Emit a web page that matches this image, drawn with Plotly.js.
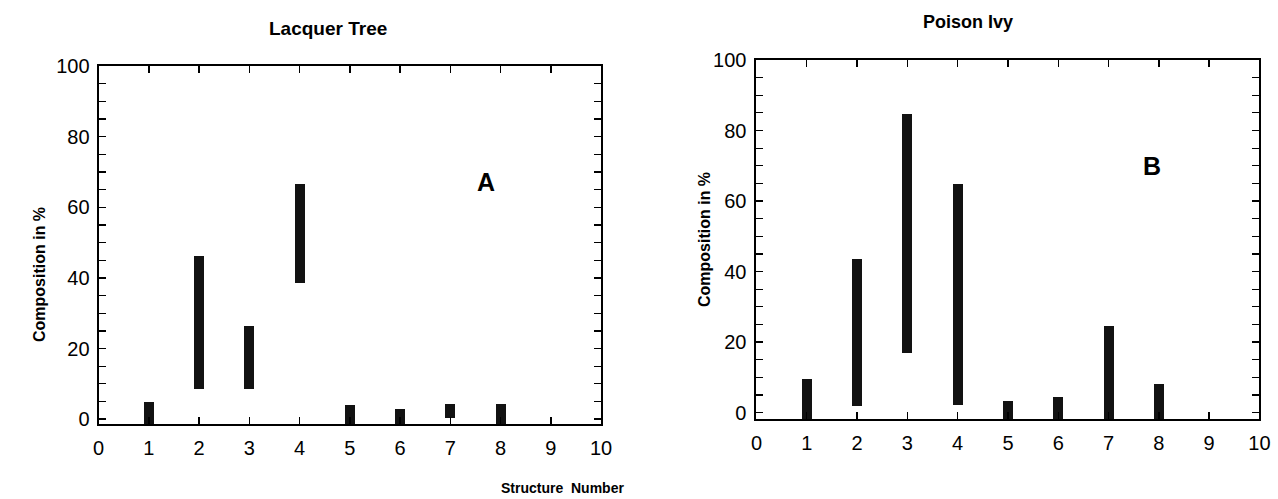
<!DOCTYPE html>
<html>
<head>
<meta charset="utf-8">
<script src="https://cdn.plot.ly/plotly-3.0.1.min.js"></script>
<style>
html,body{margin:0;padding:0;background:#fff;}
#chart{width:1278px;height:499px;}
</style>
</head>
<body>
<div id="chart"></div>
<script>
// Structure numbers (x positions)
const structures = [1, 2, 3, 4, 5, 6, 7, 8];
// Panel A: Lacquer Tree, composition range (low / high, %)
const lacquerLow  = [-1.5, 8.6, 8.6, 38.6, -1.5, -1.5, 0.3, -1.5];
const lacquerHigh = [4.8, 46.3, 26.5, 66.6, 4.0, 3.0, 4.2, 4.2];
// Panel B: Poison Ivy, composition range (low / high, %)
const ivyLow  = [-1.9, 1.9, 17.0, 2.2, -1.9, -1.9, -1.9, -1.9];
const ivyHigh = [9.5, 43.5, 84.7, 64.7, 3.3, 4.5, 24.6, 8.1];
// Axis ticks
const xTicks = [0, 1, 2, 3, 4, 5, 6, 7, 8, 9, 10];
const yTicks = [0, 20, 40, 60, 80, 100];

const FONT = "Liberation Sans, Arial, Helvetica, sans-serif";
const barColor = "#121212";

function span(low, high) { return high.map((h, i) => h - low[i]); }

const traces = [
  {type: "bar", x: structures, y: span(lacquerLow, lacquerHigh), base: lacquerLow,
   width: 0.2, marker: {color: barColor, line: {width: 0}}, xaxis: "x", yaxis: "y",
   hoverinfo: "x"},
  {type: "bar", x: structures, y: span(ivyLow, ivyHigh), base: ivyLow,
   width: 0.2, marker: {color: barColor, line: {width: 0}}, xaxis: "x2", yaxis: "y2",
   hoverinfo: "x"}
];

function xAxis(domain, anchor, standoff) {
  return {
    domain: domain, anchor: anchor, range: [0, 10],
    tickmode: "array", tickvals: xTicks, ticktext: xTicks.map(String),
    ticks: "inside", ticklen: 7, tickwidth: 1.5, tickcolor: "#000",
    showline: true, linewidth: 2, linecolor: "#000", mirror: "ticks",
    showgrid: false, zeroline: false, ticklabelstandoff: standoff,
    tickfont: {family: FONT, size: 20, color: "#000"}, fixedrange: true
  };
}
function yAxis(domain, anchor, lo, standoff) {
  return {
    domain: domain, anchor: anchor, range: [lo, 100],
    tickmode: "array", tickvals: yTicks, ticktext: yTicks.map(String),
    ticks: "inside", ticklen: 7, tickwidth: 1.5, tickcolor: "#000",
    minor: {dtick: 5, tick0: 0, ticks: "inside", ticklen: 7, tickwidth: 1.2, tickcolor: "#000", showgrid: false},
    showline: true, linewidth: 2, linecolor: "#000", mirror: "ticks",
    showgrid: false, zeroline: false, ticklabelstandoff: standoff,
    tickfont: {family: FONT, size: 20, color: "#000"}, fixedrange: true
  };
}

function note(text, px, py, size, angle) {
  return {text: text, x: px/1278, y: 1 - py/499, xref: "paper", yref: "paper",
          xanchor: "center", yanchor: "middle", textangle: angle || 0,
          showarrow: false, font: {family: FONT, size: size, color: "#000"}};
}

const layout = {
  width: 1278, height: 499,
  margin: {l: 0, r: 0, t: 0, b: 0},
  paper_bgcolor: "#fff", plot_bgcolor: "#fff",
  showlegend: false, bargap: 0,
  xaxis: xAxis([0.0771, 0.4703], "y", 5),
  yaxis: yAxis([0.1493, 0.8677], "x", -1.5, 3),
  xaxis2: xAxis([0.5919, 0.9855], "y2", 5),
  yaxis2: yAxis([0.1597, 0.8798], "x2", -1.9, 4),
  annotations: [
    note("<b>Lacquer Tree</b>", 328, 28, 19),
    note("<b>Poison Ivy</b>", 968, 22, 18),
    note("<b>Composition in %</b>", 39, 275, 16, -90),
    note("<b>Composition in %</b>", 704, 240, 16, -90),
    note("<b>Structure  Number</b>", 562, 488, 14),
    note("<b>A</b>", 486, 182, 25),
    note("<b>B</b>", 1152, 166, 25)
  ]
};

Plotly.newPlot("chart", traces, layout, {displayModeBar: false, staticPlot: true});
</script>
</body>
</html>
